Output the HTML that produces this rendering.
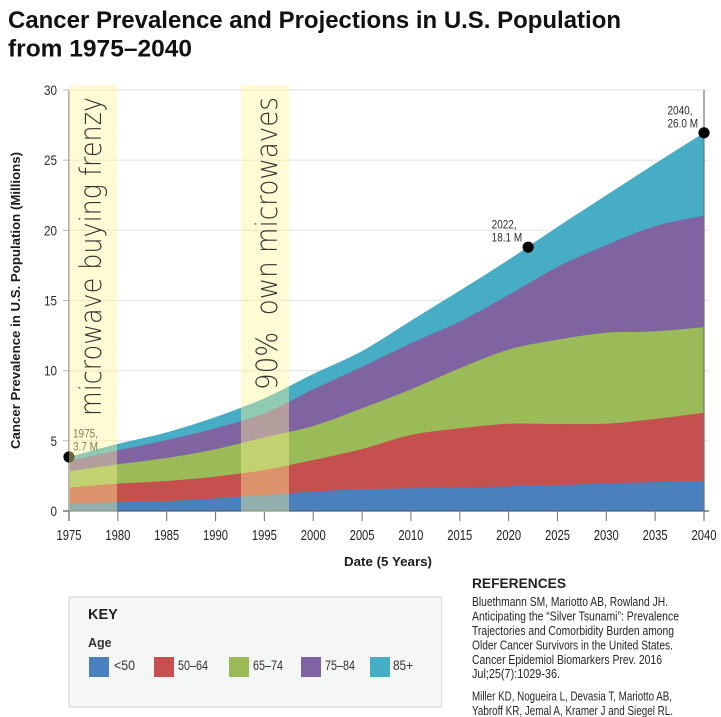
<!DOCTYPE html>
<html lang="en">
<head>
<meta charset="utf-8">
<title>Cancer Prevalence and Projections</title>
<style>
html,body{margin:0;padding:0;background:#fff;width:721px;height:717px;overflow:hidden}
svg{display:block}
text{font-family:"Liberation Sans",sans-serif}
text.thin{font-family:"DejaVu Sans ExtraLight","DejaVu Sans","Liberation Sans",sans-serif;font-weight:200}
</style>
</head>
<body>
<svg id="chart" xmlns="http://www.w3.org/2000/svg" width="721" height="717" viewBox="0 0 721 717">
  <g font-weight="700" font-size="24.500" fill="#111">
    <text x="8" y="28" textLength="613" lengthAdjust="spacingAndGlyphs">Cancer Prevalence and Projections in U.S. Population</text>
    <text x="8" y="56.500" textLength="184" lengthAdjust="spacingAndGlyphs">from 1975–2040</text>
  </g>
  <g id="grid"></g>
  <g id="areas"></g>
  <g id="axes"></g>
  <g id="markers"></g>
  <g>
    <rect x="69" y="85" width="48" height="427" fill="#fff596" fill-opacity="0.4"/>
    <rect x="241" y="85" width="48" height="427" fill="#fff596" fill-opacity="0.4"/>
    <text class="thin" transform="translate(101,416) rotate(-90)" font-size="29" fill="#333" textLength="319" lengthAdjust="spacingAndGlyphs">microwave buying frenzy</text>
    <text class="thin" transform="translate(277,390) rotate(-90)" font-size="29" fill="#333" textLength="293" lengthAdjust="spacingAndGlyphs" xml:space="preserve">90%  own microwaves</text>
  </g>
  <text transform="translate(20,449) rotate(-90)" font-size="13" font-weight="700" fill="#1c1c1c" textLength="297" lengthAdjust="spacingAndGlyphs">Cancer Prevalence in U.S. Population (Millions)</text>
  <text x="344" y="566" font-size="13" font-weight="700" fill="#1c1c1c" textLength="88" lengthAdjust="spacingAndGlyphs">Date (5 Years)</text>

  <g>
    <rect x="69" y="597" width="372.500" height="110" fill="#f5f7f6" stroke="#dfe1e0" stroke-width="1.500"/>
    <text x="88" y="619" font-size="14.500" font-weight="700" fill="#222">KEY</text>
    <text x="88" y="647" font-size="12.500" font-weight="700" fill="#333">Age</text>
    <rect x="89" y="657" width="20" height="20" fill="#4a80bd"/>
    <text x="114" y="670" font-size="13.500" fill="#333" textLength="21" lengthAdjust="spacingAndGlyphs">&lt;50</text>
    <rect x="154" y="657" width="20" height="20" fill="#c5504e"/>
    <text x="178" y="670" font-size="13.500" fill="#333" textLength="30" lengthAdjust="spacingAndGlyphs">50–64</text>
    <rect x="229" y="657" width="20" height="20" fill="#9bbb59"/>
    <text x="253" y="670" font-size="13.500" fill="#333" textLength="30" lengthAdjust="spacingAndGlyphs">65–74</text>
    <rect x="301" y="657" width="20" height="20" fill="#8064a2"/>
    <text x="325" y="670" font-size="13.500" fill="#333" textLength="30" lengthAdjust="spacingAndGlyphs">75–84</text>
    <rect x="370" y="657" width="20" height="20" fill="#46adc5"/>
    <text x="393" y="670" font-size="13.500" fill="#333" textLength="20" lengthAdjust="spacingAndGlyphs">85+</text>
  </g>

  <g font-size="13" fill="#262626">
    <text x="472" y="588" font-size="13.500" font-weight="700" fill="#222" textLength="94" lengthAdjust="spacingAndGlyphs">REFERENCES</text>
    <text x="472" y="606" textLength="196" lengthAdjust="spacingAndGlyphs">Bluethmann SM, Mariotto AB, Rowland JH.</text>
    <text x="472" y="620.500" textLength="207" lengthAdjust="spacingAndGlyphs">Anticipating the “Silver Tsunami”: Prevalence</text>
    <text x="472" y="635" textLength="202" lengthAdjust="spacingAndGlyphs">Trajectories and Comorbidity Burden among</text>
    <text x="472" y="649.500" textLength="201" lengthAdjust="spacingAndGlyphs">Older Cancer Survivors in the United States.</text>
    <text x="472" y="664" textLength="190" lengthAdjust="spacingAndGlyphs">Cancer Epidemiol Biomarkers Prev. 2016</text>
    <text x="472" y="678" textLength="88" lengthAdjust="spacingAndGlyphs">Jul;25(7):1029-36.</text>
    <text x="472" y="700.500" textLength="200" lengthAdjust="spacingAndGlyphs">Miller KD, Nogueira L, Devasia T, Mariotto AB,</text>
    <text x="472" y="715" textLength="201" lengthAdjust="spacingAndGlyphs">Yabroff KR, Jemal A, Kramer J and Siegel RL.</text>
  </g>
</svg>
<script>
const years = [1975,1980,1985,1990,1995,2000,2005,2010,2015,2020,2025,2030,2035,2040];
const under50 = [0.5,0.62,0.71,0.9,1.14,1.38,1.55,1.62,1.66,1.76,1.85,1.95,2.07,2.16];
const age50to64 = [1.16,1.33,1.43,1.55,1.78,2.25,2.87,3.8,4.23,4.46,4.35,4.27,4.49,4.84];
const age65to74 = [1.17,1.38,1.64,1.95,2.33,2.43,2.9,3.25,4.28,5.28,6.0,6.48,6.24,6.1];
const age75to84 = [0.75,0.99,1.28,1.5,1.71,2.61,2.96,3.28,3.33,3.9,5.2,6.25,7.5,7.95];
const age85plus = [0.27,0.46,0.54,0.8,1.07,1.09,1.12,1.61,2.2,2.5,2.85,3.55,4.45,5.9];
const yTickValues = [0,5,10,15,20,25,30];
const xTickLabels = ["1975","1980","1985","1990","1995","2000","2005","2010","2015","2020","2025","2030","2035","2040"];
const calloutYears = [1975,2022,2040];
const calloutValues = [3.85,18.8,26.95];
const calloutYearLabels = ["1975,","2022,","2040,"];
const calloutValueLabels = ["3.7 M","18.1 M","26.0 M"];

const NS = "http://www.w3.org/2000/svg";
const xScale = function (year) { return 69 + (year - 1975) * (635 / 65); };
const yScale = function (value) { return 511 - value * (421 / 30); };

function make(parent, tag, attrs, content) {
  const el = document.createElementNS(NS, tag);
  Object.keys(attrs).forEach(function (k) { el.setAttribute(k, attrs[k]); });
  if (content !== undefined) el.textContent = content;
  parent.appendChild(el);
  return el;
}

const grid = document.getElementById("grid");
const areas = document.getElementById("areas");
const axes = document.getElementById("axes");
const markers = document.getElementById("markers");

yTickValues.forEach(function (v) {
  const y = yScale(v);
  if (v > 0) {
    const line = make(grid, "line", {x1: 69, x2: 709, y1: y, y2: y, stroke: "#e4e4e4", "stroke-width": 1.2});
    
    
  }
  const tick = make(axes, "line", {x1: 63, x2: 69, y1: y, y2: y, stroke: "#bbb", "stroke-width": 1});
  
  
  const label = make(axes, "text", {x: 57, y: y + 5, "text-anchor": "end", "font-size": 14, fill: "#2b2b2b", textLength: v === 0 || v === 5 ? 6.5 : 13, lengthAdjust: "spacingAndGlyphs"}, String(v));
  
  
});

function smoothPath(points) {
  let d = "M" + points[0][0] + "," + points[0][1];
  for (let i = 0; i < points.length - 1; i++) {
    const p0 = points[Math.max(i - 1, 0)];
    const p1 = points[i];
    const p2 = points[i + 1];
    const p3 = points[Math.min(i + 2, points.length - 1)];
    const c1x = p1[0] + (p2[0] - p0[0]) / 6;
    const c1y = p1[1] + (p2[1] - p0[1]) / 6;
    const c2x = p2[0] - (p3[0] - p1[0]) / 6;
    const c2y = p2[1] - (p3[1] - p1[1]) / 6;
    d += "C" + c1x + "," + c1y + " " + c2x + "," + c2y + " " + p2[0] + "," + p2[1];
  }
  return d;
}

const stackSeries = [under50, age50to64, age65to74, age75to84, age85plus];
const stackColors = ["#4a80bd", "#c5504e", "#9bbb59", "#8064a2", "#46adc5"];
const stackNames = ["area-under-50", "area-50-64", "area-65-74", "area-75-84", "area-85-plus"];
const running = years.map(function () { return 0; });
const boundaries = stackSeries.map(function (series) {
  return series.map(function (v, i) { running[i] += v; return running[i]; });
});
for (let s = stackSeries.length - 1; s >= 0; s--) {
  const pts = years.map(function (yr, i) { return [xScale(yr), yScale(boundaries[s][i])]; });
  const d = smoothPath(pts) + "L" + xScale(years[years.length - 1]) + "," + yScale(0) + "L" + xScale(years[0]) + "," + yScale(0) + "Z";
  const area = make(areas, "path", {d: d, fill: stackColors[s]});
  
  
}

const leftAxis = make(axes, "line", {x1: 69, x2: 69, y1: yScale(30), y2: 521, stroke: "#9a9a9a", "stroke-width": 1.5});


const rightAxis = make(axes, "line", {x1: 704, x2: 704, y1: yScale(30), y2: 521, stroke: "#6f7478", "stroke-width": 1.2});


const baseline = make(axes, "line", {x1: 63, x2: 709, y1: yScale(0), y2: yScale(0), stroke: "#4b5f74", "stroke-width": 1.2});



xTickLabels.forEach(function (lab) {
  const x = xScale(Number(lab));
  const tick = make(axes, "line", {x1: x, x2: x, y1: 511, y2: 521, stroke: "#7a7a7a", "stroke-width": 1.1});
  
  
  const text = make(axes, "text", {x: x - 12.5, y: 540, "font-size": 14.5, fill: "#222", textLength: 25, lengthAdjust: "spacingAndGlyphs"}, lab);
  
  
});

calloutYears.forEach(function (yr, i) {
  const cx = xScale(yr);
  const cy = yScale(calloutValues[i]);
  const dot = make(markers, "circle", {cx: cx, cy: cy, r: 5.6, fill: "#050505"});
  
  
  const tx = i === 0 ? cx + 4 : cx - 36.5;
  const ty = i === 0 ? cy - 19.5 : cy - 18.5;
  const yearText = make(markers, "text", {x: tx, y: ty, "font-size": 12, fill: "#2b2b2b", textLength: 25, lengthAdjust: "spacingAndGlyphs"}, calloutYearLabels[i]);
  
  
  const valueText = make(markers, "text", {x: tx, y: ty + 13, "font-size": 12, fill: "#2b2b2b", textLength: i === 0 ? 25 : 30.5, lengthAdjust: "spacingAndGlyphs"}, calloutValueLabels[i]);
  
  
});
</script>
</body>
</html>
